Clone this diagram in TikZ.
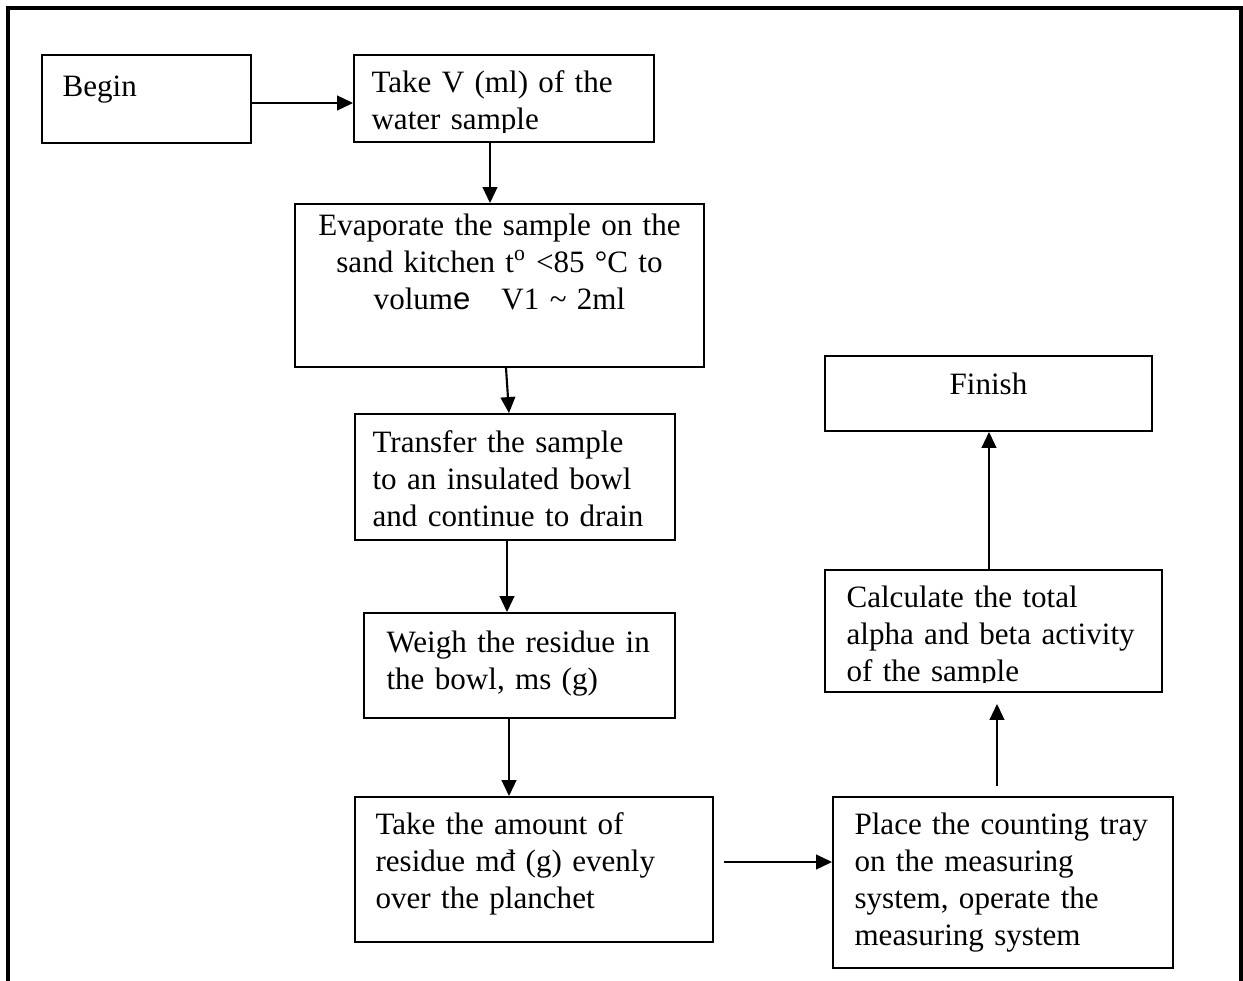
\documentclass[tikz,border=0pt]{standalone}
\usepackage{fontspec}
\setmainfont{Liberation Serif}
\newfontfamily\oddsans{Liberation Sans}
\usetikzlibrary{arrows.meta}

\newcommand{\stepfont}{\fontsize{23.3pt}{27.75pt}\selectfont}

\tikzset{every picture/.style={line width=0.75pt}}
\tikzset{
  flowbox/.style={draw, line width=1.4pt, inner sep=0pt},
  lefttxt/.style={inner sep=0pt, text width=270pt, align=left, anchor=base west, font=\stepfont},
  midtxt/.style={inner sep=0pt, text width=300pt, align=center, anchor=base, font=\stepfont},
  flowarrow/.style={line width=1.6pt, -{Triangle[length=12pt,width=11pt]}}
}

\begin{document}
\begin{tikzpicture}[x=0.75pt,y=0.75pt,yscale=-1,xscale=1]
\useasboundingbox (0,0) rectangle (1243,981);

%Outer frame (open at the bottom)
\draw [line width=2.4pt] (8,981) -- (8,8) -- (1241,8) -- (1241,981) ;

%Boxes
\node [flowbox, minimum width=156.75pt, minimum height=66pt]     (begin)    at (146.5,99)   {};
\node [flowbox, minimum width=225pt,    minimum height=65.25pt]  (takev)    at (504,98.5)   {};
\node [flowbox, minimum width=306.75pt, minimum height=122.25pt] (evap)     at (499.5,285.5){};
\node [flowbox, minimum width=240pt,    minimum height=94.5pt]   (transfer) at (515,477)    {};
\node [flowbox, minimum width=233.25pt, minimum height=78.75pt]  (weigh)    at (519.5,665.5){};
\node [flowbox, minimum width=268.5pt,  minimum height=108.75pt] (amount)   at (534,869.5)  {};
\node [flowbox, minimum width=255pt,    minimum height=128.25pt] (place)    at (1003,882.5) {};
\node [flowbox, minimum width=252.75pt, minimum height=91.5pt]   (calc)     at (993.5,631)  {};
\node [flowbox, minimum width=245.25pt, minimum height=56.25pt]  (finish)   at (988.5,393.5){};

%Texts
\node [lefttxt] (begintxt) at ([shift={(21,42)}]begin.north west) {Begin};
\begin{scope}
\clip ([shift={(0,0)}]takev.north west) rectangle ([shift={(0,-10)}]takev.south east);
\node [lefttxt] (takevtxt) at ([shift={(18,38)}]takev.north west) {Take V (ml) of the\\water sample};
\end{scope}
\node [midtxt] (evaptxt) at ([shift={(0,32)}]evap.north) {Evaporate the sample on the\\sand kitchen t\textsuperscript{o} <85 °C to\\volum{\oddsans e}\ \ \ V1 \textasciitilde{} 2ml};
\node [lefttxt] (transfertxt) at ([shift={(18,39)}]transfer.north west) {Transfer the sample\\to an insulated bowl\\and continue to drain};
\node [lefttxt] (weightxt) at ([shift={(23,40)}]weigh.north west) {Weigh the residue in\\the bowl, ms (g)};
\node [lefttxt] (amounttxt) at ([shift={(21,38)}]amount.north west) {Take the amount of\\residue mđ (g) evenly\\over the planchet};
\node [lefttxt] (placetxt) at ([shift={(22,38)}]place.north west) {Place the counting tray\\on the measuring\\system, operate the\\measuring system};
\begin{scope}
\clip (calc.north west) rectangle ([shift={(0,-10)}]calc.south east);
\node [lefttxt] (calctxt) at ([shift={(22,38)}]calc.north west) {Calculate the total\\alpha and beta activity\\of the sample};
\end{scope}
\node [midtxt] (finishtxt) at ([shift={(0,39)}]finish.north) {Finish};

%Connectors
\coordinate (a1) at ([shift={(0,4)}]begin.east);
\coordinate (a2) at ([shift={(-14,0)}]takev.south);
\coordinate (a3) at ([shift={(-8,0)}]transfer.south);
\coordinate (a4) at ([shift={(-10.5,0)}]weigh.south);
\coordinate (a5) at ([shift={(10,-7.5)}]amount.east);
\coordinate (a6) at ([shift={(-6,-10)}]place.north);
\coordinate (a7) at ([shift={(0,11)}]a6 |- calc.south);
\coordinate (a8) at ([shift={(-4.5,0)}]calc.north);

\draw [flowarrow] (a1) -- (a1 -| takev.west) ;
\draw [flowarrow] (a2) -- (a2 |- evap.north) ;
\draw [flowarrow] ([shift={(6.5,0)}]evap.south) -- ([shift={(-6,0)}]transfer.north) ;
\draw [flowarrow] (a3) -- (a3 |- weigh.north) ;
\draw [flowarrow] (a4) -- (a4 |- amount.north) ;
\draw [flowarrow] (a5) -- (a5 -| place.west) ;
\draw [flowarrow] (a6) -- (a7) ;
\draw [flowarrow] (a8) -- (a8 |- finish.south) ;

\end{tikzpicture}
\end{document}
